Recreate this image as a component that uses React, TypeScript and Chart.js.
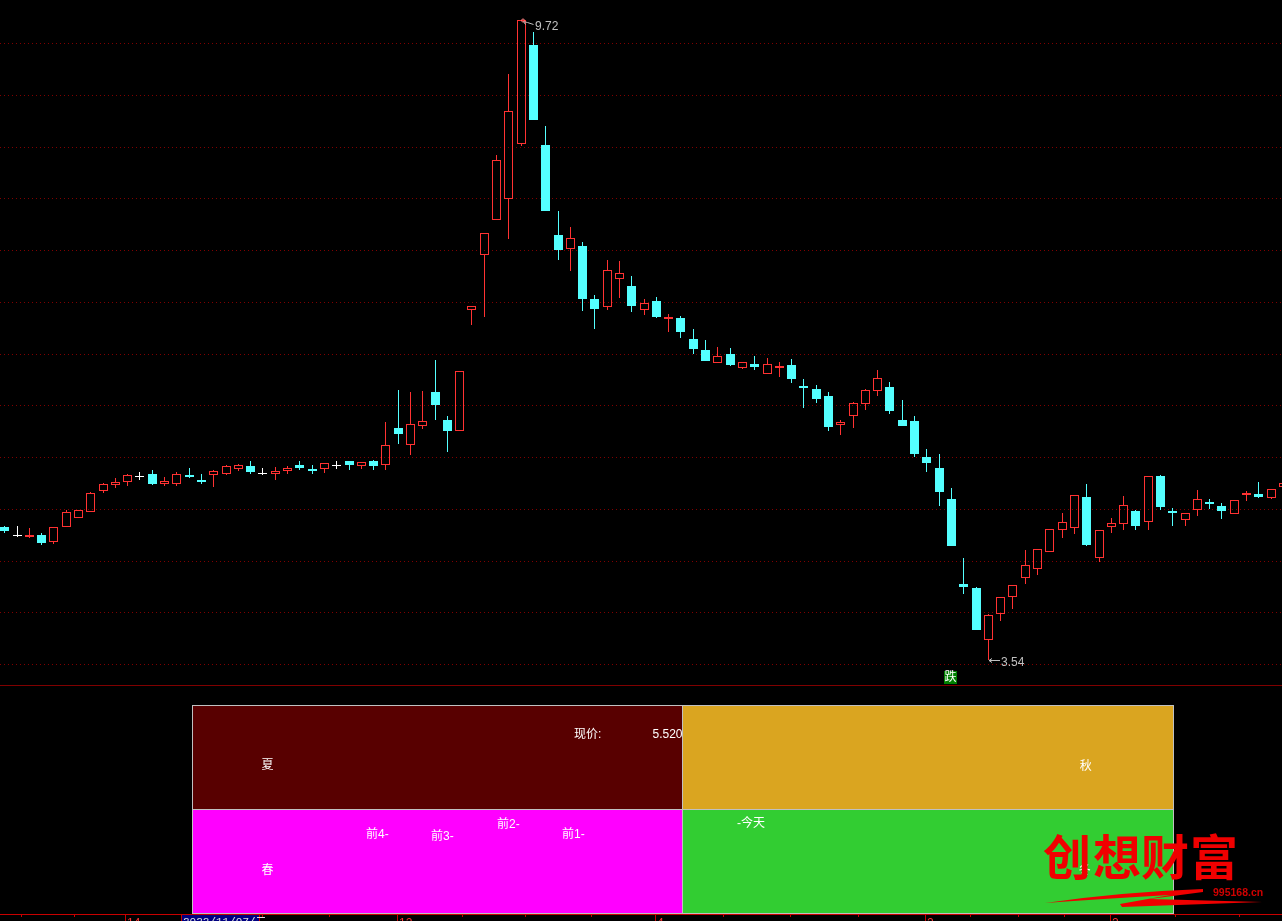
import React, { useEffect, useRef } from "react";
import { Chart, registerables } from "chart.js";

Chart.register(...registerables);

const opens = [4.825,4.743,4.733,4.748,4.685,4.830,4.917,4.975,5.177,5.235,5.264,5.313,5.337,5.245,5.245,5.327,5.279,5.332,5.342,5.390,5.414,5.342,5.342,5.371,5.424,5.385,5.390,5.419,5.462,5.419,5.462,5.429,5.781,5.622,5.805,6.129,5.858,5.757,6.926,7.457,7.795,7.998,8.529,9.481,8.515,7.646,7.515,7.539,7.027,6.955,7.225,7.153,6.926,7.008,6.839,6.844,6.641,6.535,6.414,6.496,6.366,6.399,6.308,6.366,6.390,6.187,6.158,6.090,5.815,5.902,6.018,6.143,6.177,5.858,5.849,5.501,5.395,5.095,4.274,4.236,3.738,3.989,4.153,4.337,4.424,4.588,4.801,4.820,5.115,4.530,4.830,4.859,4.979,4.878,5.317,4.979,4.897,4.994,5.066,5.028,4.955,5.139,5.144,5.110,5.216];
const highs = [4.834,4.834,4.815,4.767,4.825,4.989,4.989,5.163,5.250,5.298,5.337,5.356,5.375,5.308,5.356,5.395,5.337,5.375,5.424,5.433,5.462,5.395,5.404,5.414,5.462,5.424,5.443,5.462,5.462,5.453,5.472,5.839,6.148,6.129,6.139,6.438,5.897,6.332,6.960,7.665,8.418,9.201,9.722,9.606,8.698,7.877,7.723,7.578,7.066,7.404,7.394,7.249,7.027,7.047,6.882,6.863,6.737,6.631,6.564,6.554,6.419,6.477,6.457,6.419,6.448,6.254,6.197,6.129,5.858,6.032,6.158,6.341,6.225,6.052,5.897,5.578,5.530,5.202,4.525,4.245,3.984,4.149,4.265,4.603,4.612,4.805,4.960,5.134,5.240,4.796,4.912,5.124,4.989,5.317,5.327,5.008,4.960,5.182,5.095,5.057,5.086,5.173,5.259,5.192,5.250];
const lows = [4.767,4.728,4.719,4.651,4.661,4.825,4.912,4.970,5.153,5.202,5.221,5.279,5.231,5.221,5.221,5.298,5.240,5.211,5.327,5.366,5.337,5.327,5.279,5.337,5.375,5.337,5.346,5.385,5.375,5.385,5.375,5.375,5.627,5.520,5.771,5.858,5.549,5.752,6.776,6.853,7.790,7.607,8.505,8.756,7.877,7.404,7.298,6.911,6.737,6.921,7.037,6.902,6.873,6.844,6.708,6.651,6.496,6.428,6.409,6.380,6.351,6.341,6.303,6.274,6.216,5.974,6.023,5.752,5.714,5.781,5.955,6.090,5.916,5.800,5.501,5.356,5.028,4.641,4.178,3.830,3.540,3.917,4.033,4.274,4.361,4.583,4.719,4.757,4.641,4.487,4.767,4.796,4.796,4.796,4.989,4.834,4.834,4.931,4.999,4.902,4.950,5.076,5.105,5.095,5.211];
const closes = [4.786,4.743,4.743,4.670,4.820,4.965,4.984,5.148,5.235,5.255,5.322,5.313,5.240,5.264,5.332,5.308,5.259,5.361,5.409,5.419,5.356,5.342,5.361,5.390,5.395,5.366,5.438,5.419,5.424,5.448,5.414,5.612,5.723,5.815,5.844,6.003,5.752,6.327,6.955,7.660,8.365,8.839,9.718,8.756,7.877,7.501,7.612,7.027,6.931,7.303,7.274,6.960,6.984,6.853,6.849,6.708,6.544,6.428,6.472,6.390,6.414,6.370,6.395,6.375,6.254,6.168,6.061,5.791,5.834,6.018,6.143,6.259,5.945,5.800,5.530,5.443,5.163,4.641,4.245,3.830,3.970,4.144,4.260,4.453,4.607,4.801,4.868,5.129,4.651,4.791,4.859,5.032,4.834,5.313,5.018,4.960,4.955,5.090,5.047,4.979,5.081,5.148,5.115,5.187,5.245];

const gridPrices = [3.5,4,4.5,5,5.5,6,6.5,7,7.5,8,8.5,9,9.5];
const fallSignalIndex = 77;
const currentPrice = "5.520";

const seasons = ["春", "夏", "秋", "冬"];
const seasonColors = ["#FF00FF", "#580000", "#DAA520", "#32CD32"];

const longTicks = [9.854, 31.92, 52.92, 74.9, 89.93];
const longTickLabels = ["14", "12", "4", "2", "2"];
const shortTicks = [1.395, 5.665, 20.94, 26.39, 37.22, 42.39, 47.71, 58.46, 63.89, 69.42, 78.58, 82.46, 86.23, 95.22, 100.43];
const cursorDate = "2022/11/07/二";
const cursorIndex = 14.35;

const X_MIN = -0.38634;
const X_MAX = 103.884;
const Y_MIN = 3.2985;
const Y_MAX = 9.9156;
const GRID_SHIFT = 0.00483;
const TOP_H = 686;
const PAGE_H = 921;
const PAGE_W = 1282;

const UP = "#FF3232";
const DOWN = "#54FFFF";
const FONT = '"Liberation Sans","Noto Sans CJK SC"';

const candleIdx = opens.map((_, i) => i);

const panelTexts: { t: string; vx: number; vy: number; center?: boolean }[] = [
  { t: "夏", vx: 0.154, vy: 1.428, center: true },
  { t: "春", vx: 0.154, vy: 0.423, center: true },
  { t: "秋", vx: 1.822, vy: 1.423, center: true },
  { t: "冬", vx: 1.82, vy: 0.423, center: true },
  { t: "现价:", vx: 0.7787, vy: 1.731 },
  { t: currentPrice, vx: 0.9388, vy: 1.731 },
  { t: "前4-", vx: 0.3547, vy: 0.769 },
  { t: "前3-", vx: 0.4873, vy: 0.75 },
  { t: "前2-", vx: 0.6218, vy: 0.865 },
  { t: "前1-", vx: 0.7543, vy: 0.769 },
  { t: "-今天", vx: 1.111, vy: 0.875 },
];

const candlePlugin = {
  id: "candles",
  beforeDatasetDraw(chart: any, args: any) {
    const { ctx } = chart;
    const xs = chart.scales.x;
    const ys = chart.scales.y;
    ctx.save();
    candleIdx.forEach((i) => {
      const cx = Math.floor(xs.getPixelForValue(i));
      const o = opens[i];
      const c = closes[i];
      const up = c > o;
      const doji = c === o;
      const color = doji ? "#FFFFFF" : up ? UP : DOWN;
      ctx.fillStyle = color;
      ctx.strokeStyle = color;
      ctx.lineWidth = 1;
      const top = Math.max(o, c);
      const bot = Math.min(o, c);
      const hE = Math.round(ys.getPixelForValue(highs[i]));
      const lE = Math.round(ys.getPixelForValue(lows[i]));
      if (args.index === 1) {
        if (doji) {
          ctx.fillRect(cx, hE, 1, lE - hE);
        } else if (up) {
          const tr = Math.round(ys.getPixelForValue(top) - 0.5);
          const br = Math.round(ys.getPixelForValue(bot) - 0.5);
          if (hE < tr) ctx.fillRect(cx, hE, 1, tr - hE);
          if (lE > br + 1) ctx.fillRect(cx, br + 1, 1, lE - br - 1);
        } else {
          ctx.fillRect(cx, hE, 1, lE - hE);
        }
      } else {
        if (doji) {
          ctx.fillRect(cx - 4, Math.floor(ys.getPixelForValue(o)), 9, 1);
        } else if (up) {
          const tr = Math.round(ys.getPixelForValue(top) - 0.5);
          const br = Math.round(ys.getPixelForValue(bot) - 0.5);
          ctx.strokeRect(cx - 4 + 0.5, tr + 0.5, 8, br - tr);
        } else {
          const t = Math.round(ys.getPixelForValue(top));
          const b = Math.round(ys.getPixelForValue(bot));
          ctx.fillRect(cx - 4, t, 9, b - t);
        }
      }
    });
    ctx.restore();
    return false;
  },
  afterDatasetsDraw(chart: any) {
    const { ctx, chartArea } = chart;
    const xs = chart.scales.x;
    const ys = chart.scales.y;
    ctx.save();
    const hi = highs.indexOf(Math.max(...highs));
    const lo = lows.indexOf(Math.min(...lows));
    const grey = "#C0C0C0";
    ctx.strokeStyle = grey;
    ctx.fillStyle = grey;
    ctx.lineWidth = 1;
    ctx.font = `12px ${FONT}`;
    ctx.textAlign = "left";
    ctx.textBaseline = "alphabetic";

    const hx = Math.floor(xs.getPixelForValue(hi));
    const hy = Math.round(ys.getPixelForValue(highs[hi]));
    ctx.beginPath();
    ctx.moveTo(hx + 2.5, hy + 1.5);
    ctx.lineTo(hx + 6.5, hy + 2.5);
    ctx.lineTo(hx + 12.5, hy + 4.5);
    ctx.moveTo(hx + 2.5, hy + 1.5);
    ctx.lineTo(hx + 4.5, hy + 4.5);
    ctx.stroke();
    ctx.strokeStyle = "#FF8080";
    ctx.beginPath();
    ctx.arc(hx + 2, hy + 0.5, 1.5, 0, Math.PI * 2);
    ctx.stroke();
    ctx.fillText(highs[hi].toFixed(2), hx + 14, hy + 10);

    const lx = Math.floor(xs.getPixelForValue(lo));
    const ly = Math.round(ys.getPixelForValue(lows[lo]));
    ctx.strokeStyle = grey;
    ctx.beginPath();
    ctx.moveTo(lx + 1, ly + 0.5);
    ctx.lineTo(lx + 12, ly + 0.5);
    ctx.moveTo(lx + 1, ly + 0.5);
    ctx.lineTo(lx + 4, ly - 1.5);
    ctx.moveTo(lx + 1, ly + 0.5);
    ctx.lineTo(lx + 4, ly + 2.5);
    ctx.stroke();
    ctx.fillText(lows[lo].toFixed(2), lx + 13, ly + 6);

    const sx = Math.floor(xs.getPixelForValue(fallSignalIndex));
    ctx.fillStyle = "#008000";
    ctx.fillRect(sx - 7, 671, 13, 13);
    ctx.fillStyle = "#FFFFFF";
    ctx.font = `12px ${FONT}`;
    ctx.textAlign = "center";
    ctx.textBaseline = "middle";
    ctx.fillText("跌", sx - 0.5, 678);

    ctx.fillStyle = "#800000";
    ctx.fillRect(0, chartArea.bottom, PAGE_W, 1);
    ctx.restore();
  },
};

const panelPlugin = {
  id: "panel",
  beforeDatasetDraw(chart: any, args: any) {
    const { ctx } = chart;
    const xs = chart.scales.xq;
    const ys = chart.scales.qy;
    const ds = chart.data.datasets[args.index];
    const p = ds.data[0];
    const l = Math.floor(xs.getPixelForValue(p.x - 0.5));
    const r = Math.floor(xs.getPixelForValue(p.x + 0.5));
    const t = Math.floor(ys.getPixelForValue(p.y[1]));
    const b = Math.floor(ys.getPixelForValue(p.y[0]));
    ctx.save();
    ctx.fillStyle = ds.backgroundColor;
    ctx.fillRect(l, t, r - l, b - t);
    ctx.strokeStyle = "#C0C0C0";
    ctx.lineWidth = 1;
    ctx.strokeRect(l + 0.5, t + 0.5, r - l, b - t);
    ctx.restore();
    return false;
  },
  afterDatasetsDraw(chart: any) {
    const { ctx } = chart;
    const xq = chart.scales.xq;
    const qy = chart.scales.qy;
    const xd = chart.scales.xDate;
    ctx.save();

    // panel labels
    ctx.fillStyle = "#FFFFFF";
    ctx.font = `12px ${FONT}`;
    ctx.textBaseline = "middle";
    panelTexts.forEach((p) => {
      ctx.textAlign = p.center ? "center" : "left";
      ctx.fillText(p.t, xq.getPixelForValue(p.vx), qy.getPixelForValue(p.vy) + 1.5);
    });

    // date axis, in page coordinates
    ctx.translate(0, -TOP_H);
    ctx.fillStyle = "#C80000";
    ctx.fillRect(0, 914, PAGE_W, 1);
    shortTicks.forEach((v) => {
      ctx.fillRect(Math.floor(xd.getPixelForValue(v)), 915, 1, 2);
    });
    ctx.textAlign = "left";
    ctx.textBaseline = "alphabetic";
    longTicks.forEach((v, i) => {
      const x = Math.floor(xd.getPixelForValue(v));
      ctx.fillStyle = "#C80000";
      ctx.fillRect(x, 915, 1, 6);
      ctx.fillStyle = UP;
      ctx.fillText(longTickLabels[i], x + 2, 927);
    });
    const bx = Math.floor(xd.getPixelForValue(cursorIndex));
    ctx.fillStyle = "#000080";
    ctx.fillRect(bx, 915, 78, 6);
    ctx.fillStyle = "#C80000";
    ctx.fillRect(bx, 915, 1, 6);
    ctx.fillRect(bx + 78, 915, 1, 6);
    ctx.fillStyle = "#E0E0E0";
    ctx.font = '11px "Liberation Mono","Noto Sans CJK SC"';
    ctx.fillText(cursorDate, bx + 2, 925);

    // watermark
    ctx.fillStyle = "#F00000";
    ctx.font = '700 48px "Noto Sans CJK SC"';
    ctx.textAlign = "center";
    ctx.textBaseline = "middle";
    [["创", 1067], ["想", 1117], ["财", 1165], ["富", 1214]].forEach(([g, x]) => {
      ctx.fillText(g as string, x as number, 857);
    });
    ctx.beginPath();
    ctx.moveTo(1045, 903);
    ctx.quadraticCurveTo(1120, 892, 1203, 889);
    ctx.lineTo(1203, 892);
    ctx.lineTo(1150, 899);
    ctx.lineTo(1262, 902);
    ctx.lineTo(1122, 907);
    ctx.lineTo(1120, 904);
    ctx.lineTo(1170, 895);
    ctx.quadraticCurveTo(1100, 899, 1045, 903);
    ctx.fill();
    ctx.fillStyle = "#D00000";
    ctx.font = `bold 10.5px ${FONT}`;
    ctx.textAlign = "left";
    ctx.fillText("995168.cn", 1213, 893.5);
    ctx.restore();
  },
};

export default function App() {
  const topRef = useRef<HTMLCanvasElement>(null);
  const botRef = useRef<HTMLCanvasElement>(null);

  useEffect(() => {
    const top = new Chart(topRef.current as any, {
      type: "bar",
      data: {
        datasets: [
          {
            label: "实体",
            data: candleIdx.map((i) => ({ x: i, y: [opens[i], closes[i]] })),
            backgroundColor: DOWN,
            barThickness: 9,
            grouped: false,
          },
          {
            label: "影线",
            data: candleIdx.map((i) => ({ x: i, y: [lows[i], highs[i]] })),
            backgroundColor: UP,
            barThickness: 1,
            grouped: false,
          },
        ] as any,
      },
      options: {
        animation: false,
        responsive: false,
        devicePixelRatio: 1,
        events: [],
        layout: { padding: { left: 0, right: 0, top: 0, bottom: 1 } },
        plugins: { legend: { display: false }, tooltip: { enabled: false } },
        scales: {
          x: { type: "linear", display: false, offset: false, min: X_MIN, max: X_MAX },
          y: { type: "linear", display: false, min: Y_MIN, max: Y_MAX },
          yGrid: {
            type: "linear",
            axis: "y",
            position: "left",
            min: Y_MIN + GRID_SHIFT,
            max: Y_MAX + GRID_SHIFT,
            afterBuildTicks(s: any) {
              s.ticks = gridPrices.map((value) => ({ value }));
            },
            afterFit(s: any) {
              s.width = 0;
            },
            ticks: { display: false },
            border: { display: false, dash: [1, 3], dashOffset: 0 },
            grid: { color: "#800000", lineWidth: 1, drawTicks: false, tickLength: 0 },
          },
        },
      } as any,
      plugins: [candlePlugin] as any,
    });

    const bottom = new Chart(botRef.current as any, {
      type: "bar",
      data: {
        datasets: seasons.map((s, i) => ({
          label: s,
          data: [{ x: i < 2 ? 0.5 : 1.5, y: i === 0 || i === 3 ? [0, 1] : [1, 2] }],
          backgroundColor: seasonColors[i],
          xAxisID: "xq",
          yAxisID: "qy",
          barThickness: 490,
          grouped: false,
        })) as any,
      },
      options: {
        animation: false,
        responsive: false,
        devicePixelRatio: 1,
        events: [],
        layout: { padding: { left: 0, right: 0, top: 19, bottom: 8 } },
        plugins: { legend: { display: false }, tooltip: { enabled: false } },
        scales: {
          xq: { type: "linear", axis: "x", display: false, offset: false, min: -0.39144, max: 2.22222 },
          qy: { type: "linear", axis: "y", display: false, min: 0, max: 2 },
          xDate: { type: "linear", axis: "x", position: "bottom", display: false, offset: false, min: X_MIN, max: X_MAX },
        },
      } as any,
      plugins: [panelPlugin] as any,
    });

    return () => {
      top.destroy();
      bottom.destroy();
    };
  }, []);

  return (
    <div style={{ position: "fixed", left: 0, top: 0, width: PAGE_W, height: PAGE_H, background: "#000", overflow: "hidden" }}>
      <canvas ref={topRef} width={PAGE_W} height={TOP_H} style={{ position: "absolute", left: 0, top: 0, display: "block" }} />
      <canvas ref={botRef} width={PAGE_W} height={PAGE_H - TOP_H} style={{ position: "absolute", left: 0, top: TOP_H, display: "block" }} />
    </div>
  );
}
